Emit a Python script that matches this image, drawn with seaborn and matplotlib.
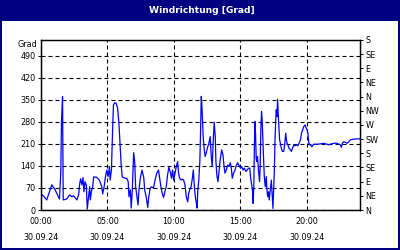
import matplotlib
matplotlib.use("Agg")
import matplotlib.pyplot as plt
import seaborn as sns
import pandas as pd
from matplotlib.patches import Rectangle

# ---- data (hours since 30.09.24 00:00, wind direction in degrees) ----
hours = [0.00, 0.18, 0.43, 0.81, 1.06, 1.31, 1.39, 1.49, 1.54, 1.62, 1.67, 1.94, 2.15, 2.32, 2.45,
         2.58, 2.70, 2.83, 2.90, 2.98, 3.08, 3.16, 3.23, 3.31, 3.41, 3.48, 3.59, 3.66, 3.71, 3.79,
         3.89, 3.96, 4.19, 4.39, 4.57, 4.64, 4.75, 4.85, 4.95, 5.05, 5.15, 5.20, 5.30, 5.38, 5.45,
         5.56, 5.66, 5.76, 5.86, 5.96, 6.04, 6.11, 6.26, 6.46, 6.56, 6.62, 6.72, 6.79, 6.87, 6.97,
         7.05, 7.12, 7.22, 7.30, 7.37, 7.47, 7.60, 7.73, 7.80, 7.93, 8.03, 8.11, 8.21, 8.33, 8.46,
         8.58, 8.71, 8.84, 8.91, 9.02, 9.12, 9.22, 9.32, 9.42, 9.52, 9.62, 9.72, 9.82, 9.90, 9.98,
         10.08, 10.18, 10.28, 10.35, 10.43, 10.53, 10.63, 10.73, 10.83, 10.93, 11.04, 11.11, 11.19,
         11.29, 11.39, 11.46, 11.54, 11.61, 11.69, 11.74, 11.80, 11.87, 11.95, 11.99, 12.06, 12.12,
         12.20, 12.27, 12.35, 12.42, 12.52, 12.63, 12.73, 12.80, 12.88, 12.95, 13.03, 13.11, 13.16,
         13.23, 13.31, 13.38, 13.48, 13.59, 13.69, 13.76, 13.84, 13.94, 14.04, 14.14, 14.24, 14.32,
         14.39, 14.49, 14.60, 14.70, 14.80, 14.87, 14.95, 15.02, 15.10, 15.20, 15.30, 15.42, 15.51,
         15.61, 15.71, 15.76, 15.83, 15.91, 15.96, 16.01, 16.06, 16.10, 16.14, 16.19, 16.24, 16.29,
         16.36, 16.44, 16.49, 16.54, 16.59, 16.64, 16.69, 16.74, 16.80, 16.87, 16.95, 16.99, 17.05,
         17.12, 17.17, 17.25, 17.33, 17.40, 17.45, 17.50, 17.55, 17.60, 17.65, 17.70, 17.75, 17.80,
         17.85, 17.90, 17.95, 18.01, 18.08, 18.16, 18.26, 18.33, 18.41, 18.46, 18.51, 18.58, 18.66,
         18.76, 18.84, 18.92, 19.02, 19.11, 19.22, 19.32, 19.42, 19.52, 19.60, 19.70, 19.77, 19.87,
         19.95, 20.02, 20.08, 20.15, 20.25, 20.38, 20.51, 20.76, 21.01, 21.26, 21.52, 21.64, 21.77,
         22.02, 22.27, 22.52, 22.60, 22.67, 22.78, 22.90, 23.03, 23.16, 23.28, 23.54, 23.79, 23.99]
direction = [51, 45, 32, 80, 64, 42, 35, 122, 277, 360, 32, 35, 48, 42, 45,
             38, 32, 48, 80, 99, 80, 103, 58, 90, 80, 3, 45, 74, 32, 58,
             74, 105, 104, 95, 74, 51, 74, 106, 127, 106, 138, 95, 127, 245, 334,
             341, 338, 324, 277, 201, 138, 105, 102, 100, 90, 42, 64, 6, 64, 182,
             152, 74, 42, 16, 64, 101, 127, 103, 64, 38, 8, 42, 69, 74, 69,
             95, 117, 127, 106, 74, 53, 40, 58, 74, 111, 136, 122, 101, 127, 95,
             117, 138, 154, 117, 101, 95, 98, 95, 80, 42, 26, 53, 64,
             74, 101, 127, 74, 42, 22, 6, 64, 95, 154, 223, 361, 318,
             233, 196, 170, 180, 197, 212, 233, 175, 138, 212, 279, 233, 154,
             111, 90, 117, 159, 191, 175, 143, 117, 127, 143, 138, 150, 133,
             101, 117, 127, 143, 150, 143, 138, 133, 138, 127, 133, 122, 127,
             133, 133, 106, 85, 64, 21, 74, 212, 281, 244, 164, 154, 170,
             127, 90, 138, 255, 313, 286, 223, 170, 106, 74, 106, 69, 42,
             58, 32, 64, 95, 42, 5, 64, 117, 212, 276, 318, 297, 352,
             302, 265, 223, 212, 196, 186, 186, 207, 244, 223, 212, 207, 196,
             191, 186, 196, 207, 204, 207, 204, 212, 223, 244, 257, 265, 270,
             260, 255, 244, 212, 207, 201, 209, 209, 210, 212, 209, 207, 209,
             212, 212, 207, 199, 212, 217, 215, 212, 217, 223, 225, 226, 226]

y_ticks = [0, 70, 140, 210, 280, 350, 420, 490]
x_tick_hours = [0, 5, 10, 15, 20]
x_tick_labels = ["00:00\n30.09.24", "05:00\n30.09.24", "10:00\n30.09.24",
                 "15:00\n30.09.24", "20:00\n30.09.24"]
compass_ticks = [0, 45, 90, 135, 180, 225, 270, 315, 360, 405, 450, 495, 540]
compass_labels = ["N", "NE", "E", "SE", "S", "SW", "W", "NW", "N", "NE", "E", "SE", "S"]
title = "Windrichtung [Grad]"
unit_label = "Grad"

NAVY = "#000080"
FS = 5.8

sns.set_theme(style="white")
plt.rcParams['font.family'] = ['DejaVu Sans']

fig = plt.figure(figsize=(4, 2.5), dpi=100, facecolor=NAVY)
fig.patches.append(Rectangle((2 / 400, 2 / 250), 396 / 400, 227 / 250,
                             transform=fig.transFigure, facecolor="white",
                             edgecolor="none", zorder=-10))
fig.text(0.505, 1 - 10.5 / 250, title, color="white", fontsize=6.6,
         fontweight="bold", ha="center", va="center")

ax = fig.add_axes([41 / 400, 40 / 250, 319 / 400, 170 / 250])
ax.set_facecolor("white")
df = pd.DataFrame({"Stunde": hours, "Grad": direction})
sns.lineplot(data=df, x="Stunde", y="Grad", ax=ax, color="#0000ff",
             linewidth=0.9, sort=False, estimator=None)

ax.set_xlim(0, 24)
ax.set_ylim(0, 540)
ax.set_xlabel("")
ax.set_ylabel("")
ax.set_yticks(y_ticks)
ax.set_yticklabels([str(v) for v in y_ticks])
ax.set_xticks(x_tick_hours)
ax.set_xticklabels(x_tick_labels, linespacing=1.9)
ax.set_xticks(range(25), minor=True)
ax.grid(True, which="major", color="black", linestyle=(0, (3.6, 2.7)), linewidth=0.8)
ax.tick_params(axis="both", which="both", direction="out", colors="black",
               labelsize=FS, labelcolor="black")
ax.tick_params(axis="x", which="both", length=2.3, width=0.7, pad=3)
ax.tick_params(axis="y", which="both", length=2, width=0.7, pad=2)
for s in ax.spines.values():
    s.set_color("black")
    s.set_linewidth(0.9)
    s.set_visible(True)

ax.annotate(unit_label, xy=(0, 527), xycoords=("axes fraction", "data"),
            xytext=(-3, 0), textcoords="offset points", ha="right",
            va="center", fontsize=FS, color="black")

ax2 = ax.twinx()
ax2.set_ylim(0, 540)
ax2.set_yticks(compass_ticks)
ax2.set_yticklabels(compass_labels)
ax2.tick_params(axis="y", direction="out", length=2.3, width=0.7, pad=1.5,
                labelsize=FS, colors="black")
ax2.grid(False)
for s in ax2.spines.values():
    s.set_color("black")
    s.set_linewidth(0.9)

fig.savefig("out.png", dpi=100, facecolor=NAVY)
